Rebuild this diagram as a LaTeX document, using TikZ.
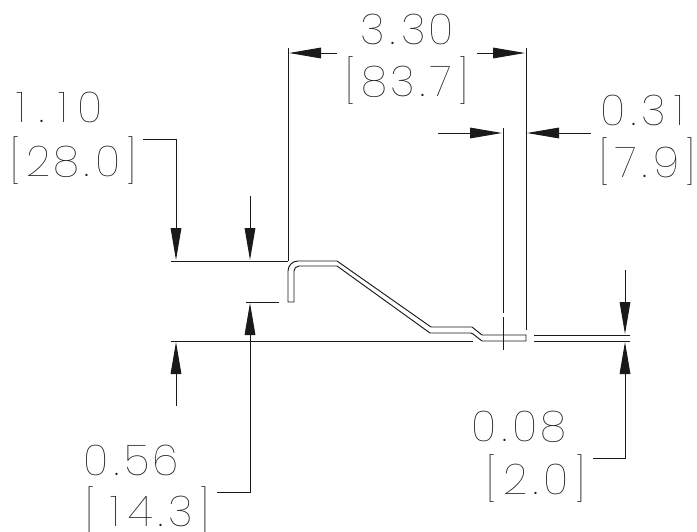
\documentclass[tikz,border=0pt]{standalone}
\usepackage{fontspec}
\usetikzlibrary{arrows.meta}
\newfontfamily\dimfont[LetterSpace=5]{Poppins Thin}
\definecolor{ink}{HTML}{1A1A1A}
\newcommand{\pd}{\makebox[12pt][c]{.}}
\newcommand{\on}{\makebox[20pt][c]{1}}
\newcommand{\lb}{[\hspace{5pt}}
\newcommand{\rb}{\hspace{5pt}]}
\tikzset{
  dimline/.style={line width=0.7pt,color=ink},
  solidtip/.style={-{Triangle[length=24pt,width=8pt]}},
  partline/.style={line width=0.7pt,color=ink},
  dimtext/.style={inner sep=0pt,outer sep=0pt,anchor=center,text=ink,font=\dimfont\fontsize{32}{32}\selectfont}
}
\begin{document}
\begin{tikzpicture}[x=0.75pt,y=-0.75pt]
\useasboundingbox (0,0) rectangle (697,532);
% part outline
\draw[partline] (288,302) -- (288,271) .. controls (288,265.5) and (292.5,261) .. (298,261) -- (337,261) -- (431,327) -- (472,327) -- (482,335) -- (526,335) -- (526,341) -- (482,341) -- (473,334) -- (471,333) -- (430,333) -- (337,266) -- (299,266) .. controls (296,266) and (294,268.5) .. (294,271) -- (294,302) -- cycle;
\draw[partline] (534,335) -- (630,335);
\draw[partline] (534,341) -- (630,341);
% extension lines
\draw[dimline] (171,261) -- (288,261);
\draw[dimline] (288,48) -- (288,261);
\draw[dimline] (526,48) -- (526,330);
\draw[dimline] (503,128) -- (503,313);
\draw[dimline] (503,317) -- (503,350);
\draw[dimline] (171,341) -- (473,341);
\draw[dimline] (246,302) -- (279,302);
% dimension arrows
\draw[dimline,solidtip] (337,53) -- (289,53);
\draw[dimline,solidtip] (477,53) -- (525,53);
\draw[dimline,solidtip] (438,133) -- (502,133);
\draw[dimline,solidtip] (591,133) -- (527,133);
\draw[dimline,solidtip] (143,139) -- (176,139) -- (176,260);
\draw[dimline,solidtip] (250,196) -- (250,260);
\draw[dimline,solidtip] (176,406) -- (176,342);
\draw[dimline,solidtip] (217,492) -- (250,492) -- (250,303);
\draw[dimline,solidtip] (625,270) -- (625,334);
\draw[dimline,solidtip] (593,458) -- (625,458) -- (625,342);
% labels
\node[dimtext] (a1) at (55,107.5) {\on\pd\on 0};
\node[dimtext] (a2) at (73.5,160.5) {\lb 28\pd 0\rb};
\node[dimtext] (b1) at (407,29.5) {3\pd 30};
\node[dimtext] (b2) at (407,81) {\lb 83\pd 7\rb};
\node[dimtext] (c1) at (647,110) {0\pd 3\on};
\node[dimtext] (c2) at (647.5,161.5) {\lb 7\pd 9\rb};
\node[dimtext] (d1) at (131,460) {0\pd 56};
\node[dimtext] (d2) at (147.5,511) {\lb\on 4\pd 3\rb};
\node[dimtext] (e1) at (519,426.5) {0\pd 08};
\node[dimtext] (e2) at (536,478.5) {\lb 2\pd 0\rb};
\end{tikzpicture}
\end{document}
